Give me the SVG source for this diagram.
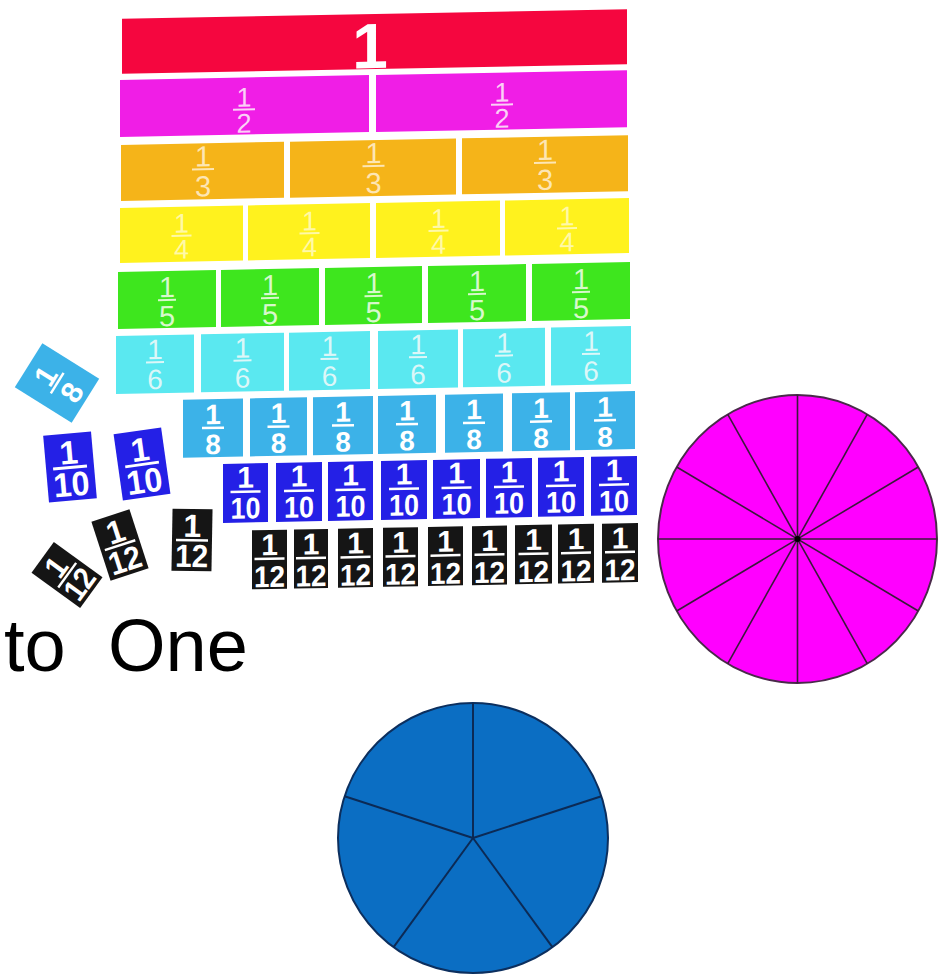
<svg xmlns="http://www.w3.org/2000/svg" xmlns:xlink="http://www.w3.org/1999/xlink" width="948" height="974" viewBox="0 0 948 974">
<style>
text{font-family:"Liberation Sans",Arial,sans-serif;text-anchor:middle}
.b{font-weight:bold}
.c1{fill:#f5063f}.c2{fill:#f01ee6}.c3{fill:#f5b419}.c4{fill:#fff21e}.c5{fill:#3ee61e}.c6{fill:#5ae8f0}.c8{fill:#3cb2e8}.c10{fill:#2420e6}.c12{fill:#151515}
.w{fill:#ffffff}.t2{fill:#fbd0f6}.t3{fill:#fde6b4}.t4{fill:#fff9a8}.t5{fill:#d8f8cc}.t6{fill:#dcf7f8}
.spk{stroke:#3a1a3a;stroke-width:1.6}
.bspk{stroke:#0c2a55;stroke-width:2}
</style>
<defs>
<g id="lab2" class="t2" font-size="27"><text x="0" y="104">1</text><rect x="-11" y="106" width="22" height="2"/><text x="0" y="130">2</text></g>
<g id="lab3" class="t3" font-size="29"><text x="0" y="163">1</text><rect x="-11" y="165" width="22" height="2"/><text x="0" y="193">3</text></g>
<g id="lab4" class="t4" font-size="27"><text x="0" y="229">1</text><rect x="-10" y="231" width="20" height="2"/><text x="0" y="255">4</text></g>
<g id="lab5" class="t5" font-size="29"><text x="0" y="293">1</text><rect x="-9" y="295" width="18" height="2"/><text x="0" y="322">5</text></g>
<g id="lab6" class="t6" font-size="28"><text x="0" y="355">1</text><rect x="-9" y="357" width="18" height="2"/><text x="0" y="385">6</text></g>
<g id="lab8" class="w b" font-size="28"><text class="b" x="0" y="421">1</text><rect x="-11" y="423.5" width="22" height="2.5"/><text class="b" x="0" y="451">8</text></g>
<g id="lab10" class="w" font-size="30"><text class="b" x="0" y="485">1</text><rect x="-15" y="488" width="30" height="2.5"/><text class="b" x="0" y="516" textLength="30" lengthAdjust="spacingAndGlyphs">10</text></g>
<g id="lab12" class="w" font-size="30"><text class="b" x="0" y="553">1</text><rect x="-15" y="555.5" width="30" height="2.5"/><text class="b" x="0" y="585" textLength="31" lengthAdjust="spacingAndGlyphs">12</text></g>
<g id="l8" class="w"><rect class="c8" x="-26" y="-33.5" width="52" height="67"/><text class="b" font-size="30" x="0" y="-3">1</text><rect x="-12" y="-1" width="24" height="2.5"/><text class="b" font-size="30" x="0" y="28">8</text></g>
<g id="l10" class="w"><rect class="c10" x="-24" y="-33.5" width="48" height="67"/><text class="b" font-size="33" x="0" y="-3">1</text><rect x="-17" y="-1" width="34" height="3"/><text class="b" font-size="34" x="0" y="29" textLength="36" lengthAdjust="spacingAndGlyphs">10</text></g>
<g id="l12" class="w"><rect class="c12" x="-20" y="-31" width="40" height="62"/><text class="b" font-size="32" x="0" y="-3">1</text><rect x="-16" y="-1" width="32" height="2.5"/><text class="b" font-size="32" x="0" y="27" textLength="33" lengthAdjust="spacingAndGlyphs">12</text></g>
</defs>
<rect width="948" height="974" fill="#ffffff"/>
<g id="board" transform="translate(375 0) skewY(-1.1) translate(-375 0)">
<g id="row1"><rect class="c1" x="122" y="14" width="505" height="55"/><text class="w b" font-size="64" x="370" y="68">1</text></g>
<g id="row2"><rect class="c2" x="120" y="75" width="249" height="57"/><rect class="c2" x="376" y="75" width="251" height="57"/>
<use xlink:href="#lab2" x="244"/><use xlink:href="#lab2" x="502"/></g>
<g id="row3"><rect class="c3" x="121" y="140" width="163" height="56"/><rect class="c3" x="290" y="140" width="166" height="56"/><rect class="c3" x="462" y="140" width="166" height="56"/>
<use xlink:href="#lab3" x="203"/><use xlink:href="#lab3" x="373.5"/><use xlink:href="#lab3" x="545"/></g>
<g id="row4"><rect class="c4" x="120" y="203" width="123" height="55"/><rect class="c4" x="248" y="203" width="122" height="55"/><rect class="c4" x="376" y="203" width="124" height="55"/><rect class="c4" x="505" y="203" width="124" height="55"/>
<use xlink:href="#lab4" x="181.5"/><use xlink:href="#lab4" x="309.5"/><use xlink:href="#lab4" x="438.5"/><use xlink:href="#lab4" x="567"/></g>
<g id="row5"><rect class="c5" x="118" y="267" width="98" height="57"/><rect class="c5" x="221" y="267" width="98" height="57"/><rect class="c5" x="325" y="267" width="97" height="57"/><rect class="c5" x="428" y="267" width="98" height="57"/><rect class="c5" x="532" y="267" width="98" height="57"/>
<use xlink:href="#lab5" x="167"/><use xlink:href="#lab5" x="270"/><use xlink:href="#lab5" x="373.5"/><use xlink:href="#lab5" x="477"/><use xlink:href="#lab5" x="581"/></g>
<g id="row6"><rect class="c6" x="116" y="331" width="78" height="58"/><rect class="c6" x="201" y="331" width="83" height="58"/><rect class="c6" x="289" y="331" width="81" height="58"/><rect class="c6" x="378" y="331" width="80" height="58"/><rect class="c6" x="463" y="331" width="82" height="58"/><rect class="c6" x="551" y="331" width="80" height="58"/>
<use xlink:href="#lab6" x="155"/><use xlink:href="#lab6" x="242.5"/><use xlink:href="#lab6" x="329.5"/><use xlink:href="#lab6" x="418"/><use xlink:href="#lab6" x="504"/><use xlink:href="#lab6" x="591"/></g>
<g id="row8"><rect class="c8" x="183" y="396" width="60" height="58"/><rect class="c8" x="250" y="396" width="57" height="58"/><rect class="c8" x="313" y="396" width="60" height="58"/><rect class="c8" x="378" y="396" width="58" height="58"/><rect class="c8" x="445" y="396" width="58" height="58"/><rect class="c8" x="512" y="396" width="58" height="58"/><rect class="c8" x="575" y="396" width="60" height="58"/>
<use xlink:href="#lab8" x="213"/><use xlink:href="#lab8" x="278.5"/><use xlink:href="#lab8" x="343"/><use xlink:href="#lab8" x="407"/><use xlink:href="#lab8" x="474"/><use xlink:href="#lab8" x="541"/><use xlink:href="#lab8" x="605"/></g>
<g id="row10"><rect class="c10" x="223" y="461" width="45" height="59"/><rect class="c10" x="276" y="461" width="46" height="59"/><rect class="c10" x="328" y="461" width="45" height="59"/><rect class="c10" x="381" y="461" width="46" height="59"/><rect class="c10" x="433" y="461" width="47" height="59"/><rect class="c10" x="486" y="461" width="46" height="59"/><rect class="c10" x="538" y="461" width="46" height="59"/><rect class="c10" x="591" y="461" width="46" height="59"/>
<use xlink:href="#lab10" x="245.5"/><use xlink:href="#lab10" x="299"/><use xlink:href="#lab10" x="350.5"/><use xlink:href="#lab10" x="404"/><use xlink:href="#lab10" x="456.5"/><use xlink:href="#lab10" x="509"/><use xlink:href="#lab10" x="561"/><use xlink:href="#lab10" x="614"/></g>
<g id="row12"><rect class="c12" x="252" y="528" width="35" height="59"/><rect class="c12" x="294" y="528" width="34" height="59"/><rect class="c12" x="338" y="528" width="35" height="59"/><rect class="c12" x="383" y="528" width="35" height="59"/><rect class="c12" x="428" y="528" width="35" height="59"/><rect class="c12" x="472" y="528" width="35" height="59"/><rect class="c12" x="515" y="528" width="37" height="59"/><rect class="c12" x="558" y="528" width="36" height="59"/><rect class="c12" x="602" y="528" width="36" height="59"/>
<use xlink:href="#lab12" x="269.5"/><use xlink:href="#lab12" x="311"/><use xlink:href="#lab12" x="355.5"/><use xlink:href="#lab12" x="400.5"/><use xlink:href="#lab12" x="445.5"/><use xlink:href="#lab12" x="489.5"/><use xlink:href="#lab12" x="533.5"/><use xlink:href="#lab12" x="576"/><use xlink:href="#lab12" x="620"/></g>
</g>
<g id="loose">
<use xlink:href="#l8" transform="translate(57 383) rotate(-58)"/>
<use xlink:href="#l10" transform="translate(70 467) rotate(-5)"/>
<use xlink:href="#l10" transform="translate(142 464) rotate(-8)"/>
<use xlink:href="#l12" transform="translate(192 540) rotate(1)"/>
<use xlink:href="#l12" transform="translate(120 545) rotate(-18)"/>
<use xlink:href="#l12" transform="translate(67 575) rotate(-54) scale(0.95 0.97)"/>
</g>
<g id="caption"><text x="4" y="671" font-size="74" fill="#000000" style="text-anchor:start">to<tspan x="108">One</tspan></text></g>
<g id="pink-circle">
<ellipse cx="797.5" cy="539" rx="139.5" ry="144" fill="#ff00ff" stroke="#4a2a4a" stroke-width="2"/>
<g class="spk">
<line x1="797.5" y1="395" x2="797.5" y2="683"/>
<line x1="867.25" y1="414.3" x2="727.75" y2="663.7"/>
<line x1="918.3" y1="467" x2="676.7" y2="611"/>
<line x1="937" y1="539" x2="658" y2="539"/>
<line x1="918.3" y1="611" x2="676.7" y2="467"/>
<line x1="867.25" y1="663.7" x2="727.75" y2="414.3"/>
</g>
<circle cx="797.5" cy="539" r="3" fill="#000000"/>
</g>
<g id="blue-circle">
<circle cx="473" cy="838" r="135" fill="#0b6ec3" stroke="#0c2f5e" stroke-width="2"/>
<g class="bspk">
<line x1="473" y1="838" x2="473" y2="703"/>
<line x1="473" y1="838" x2="601.4" y2="796.3"/>
<line x1="473" y1="838" x2="552.4" y2="947.2"/>
<line x1="473" y1="838" x2="393.6" y2="947.2"/>
<line x1="473" y1="838" x2="344.6" y2="796.3"/>
</g>
</g>
</svg>
